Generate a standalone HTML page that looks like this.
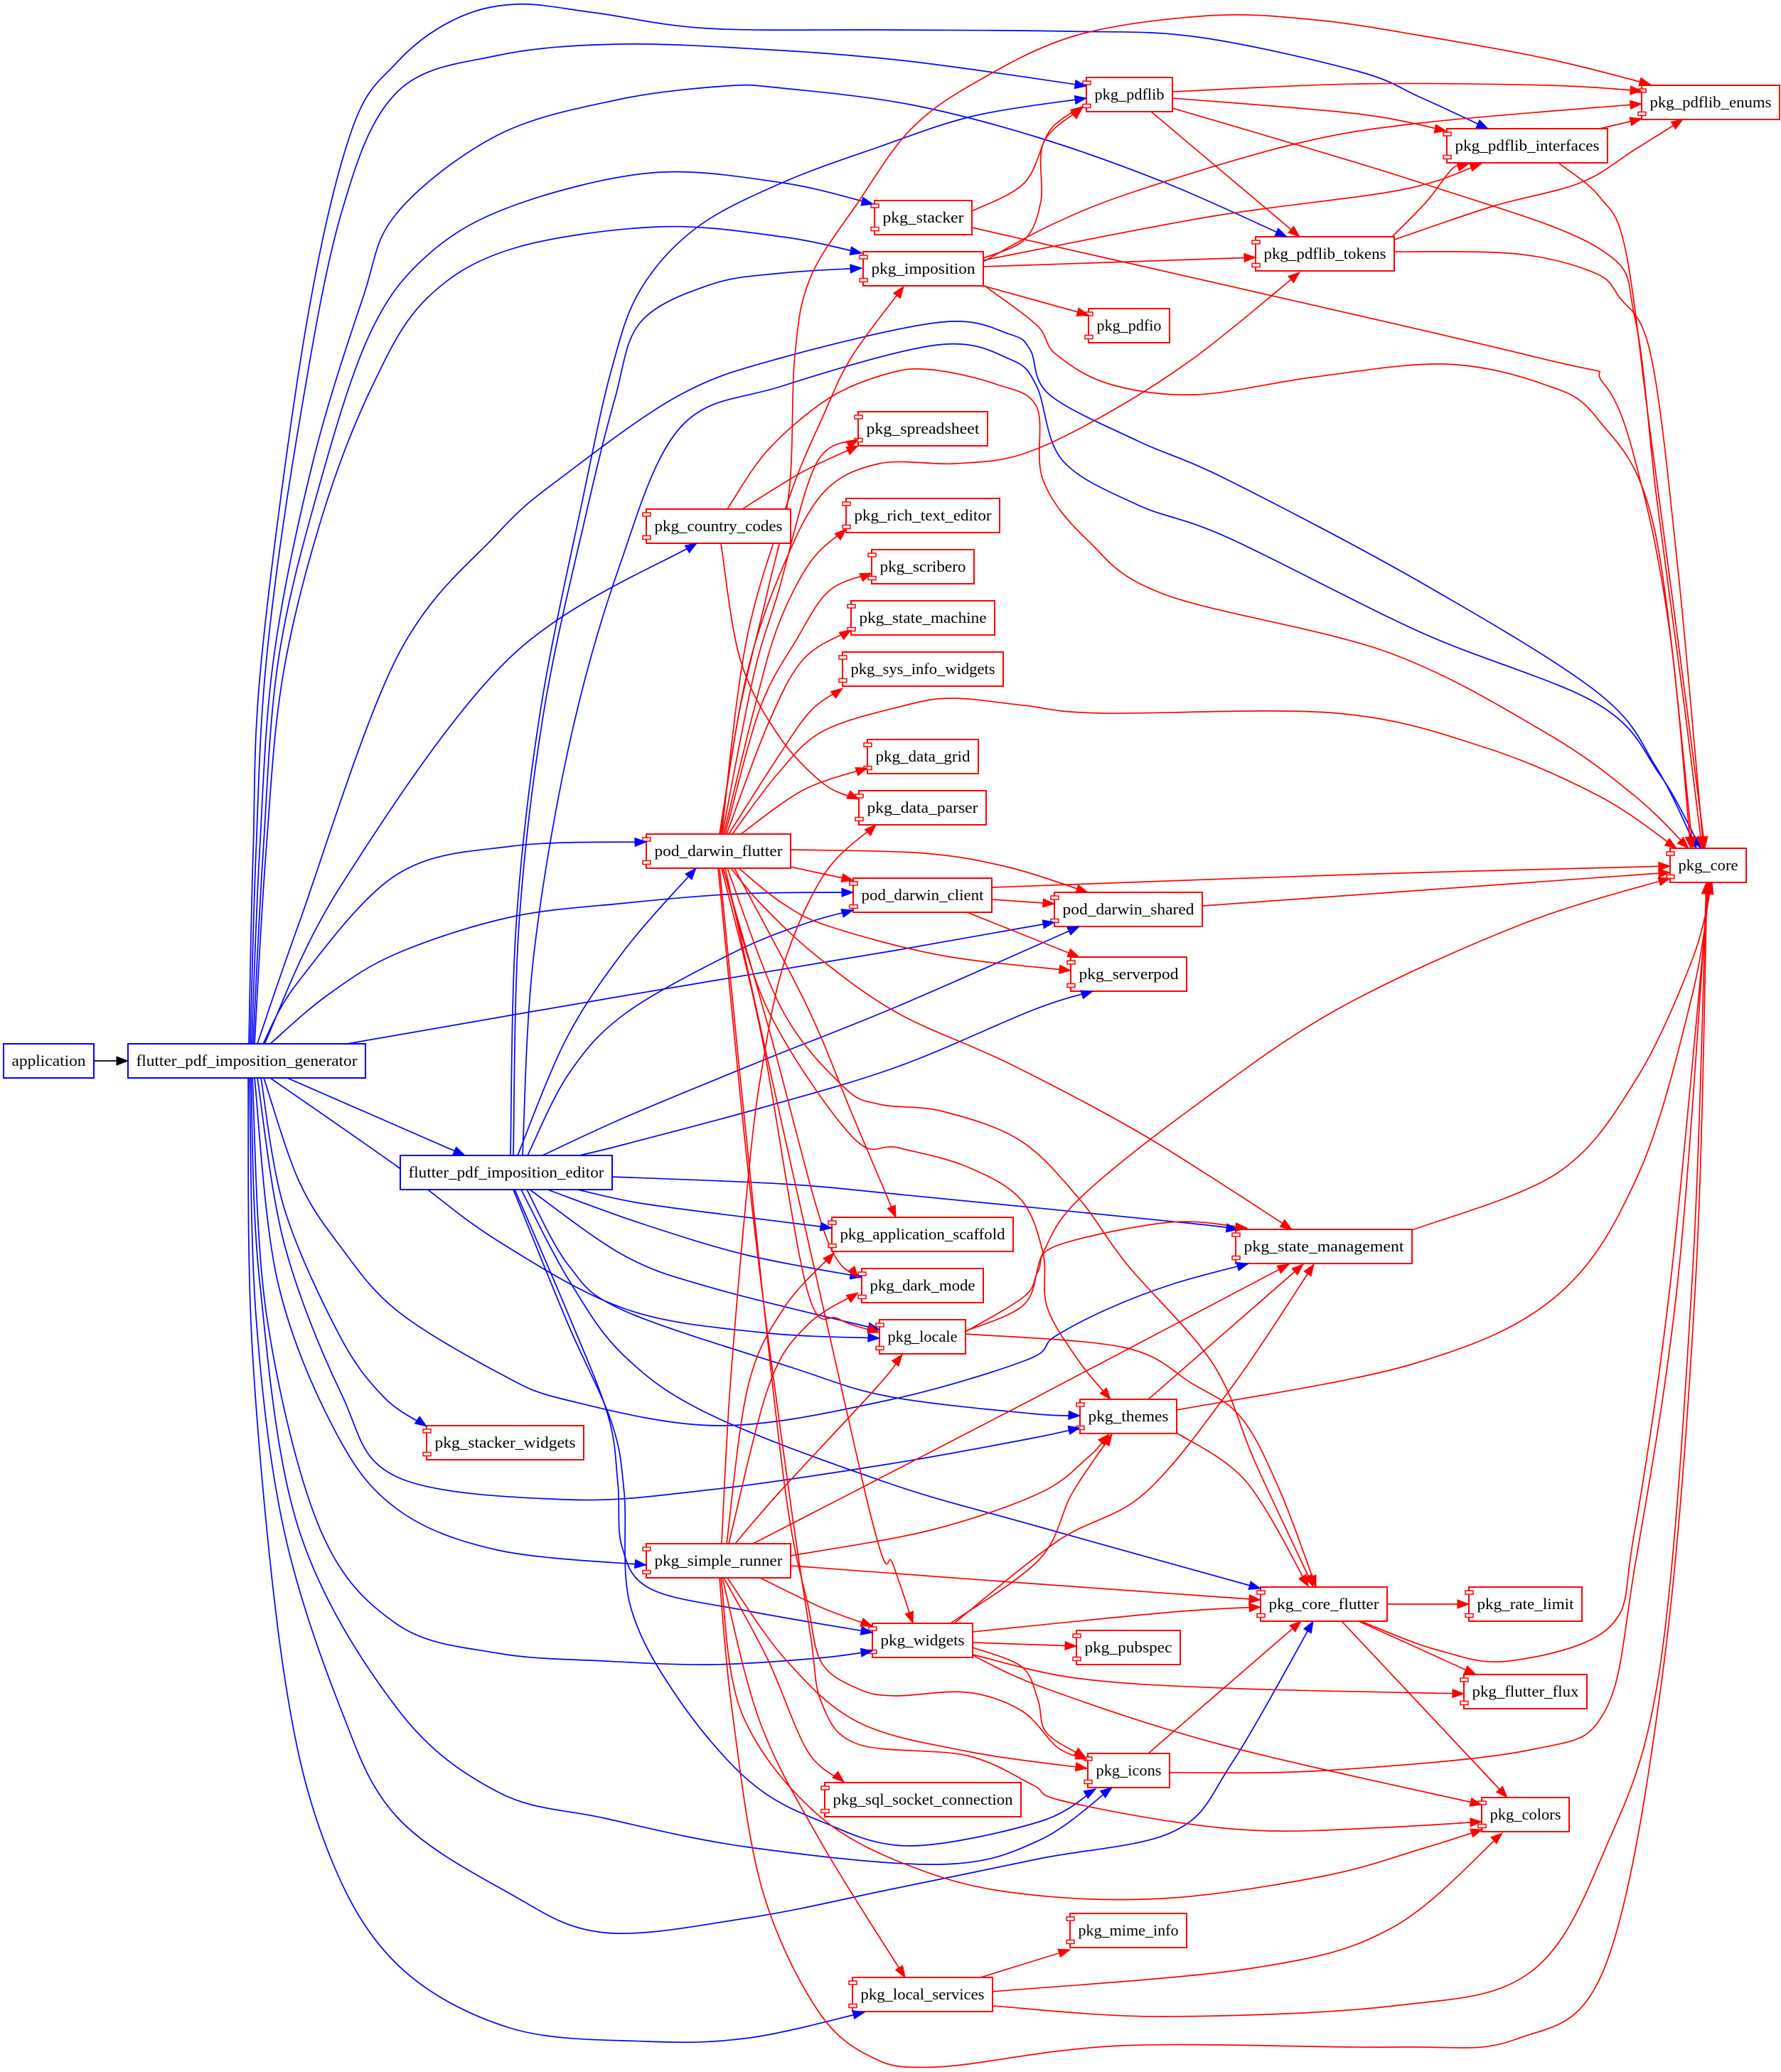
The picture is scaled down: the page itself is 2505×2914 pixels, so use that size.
<!DOCTYPE html>
<html>
<head>
<meta charset="utf-8">
<style>
html,body{margin:0;padding:0;background:#fff;}
svg{display:block;}
text{font-family:"Liberation Serif","DejaVu Serif",serif;font-size:22px;fill:#000;}
.c rect{fill:#fff;stroke:#ff0000;stroke-width:2;}
.c rect.s{stroke-width:1.5;}
.b rect{fill:#fff;stroke:#0000ff;stroke-width:2;}
</style>
</head>
<body>
<svg id="svg" xmlns="http://www.w3.org/2000/svg" width="2505" height="2914" viewBox="0 0 2505 2914">
<rect x="0" y="0" width="2505" height="2914" fill="#fff"/>
<g id="edges" fill="none" stroke-width="1.7"></g>
<g id="nodes">
<g class="b" transform="translate(5,1468)"><rect width="127" height="48"/><text x="63.5" y="31" text-anchor="middle" textLength="104" lengthAdjust="spacingAndGlyphs">application</text></g>
<g class="b" transform="translate(180,1468)"><rect width="334" height="48"/><text x="167" y="31" text-anchor="middle" textLength="311" lengthAdjust="spacingAndGlyphs">flutter_pdf_imposition_generator</text></g>
<g class="b" transform="translate(563,1625)"><rect width="298" height="48"/><text x="149" y="31" text-anchor="middle" textLength="275" lengthAdjust="spacingAndGlyphs">flutter_pdf_imposition_editor</text></g>

<g class="c" transform="translate(600,2005)"><rect width="221" height="48"/><rect class="s" x="-5" y="5" width="11" height="5"/><rect class="s" x="-5" y="37.5" width="11" height="5"/><text x="110.5" y="31" text-anchor="middle" textLength="198" lengthAdjust="spacingAndGlyphs">pkg_stacker_widgets</text></g>
<g class="c" transform="translate(909,2171)"><rect width="203" height="48"/><rect class="s" x="-5" y="5" width="11" height="5"/><rect class="s" x="-5" y="37.5" width="11" height="5"/><text x="101.5" y="31" text-anchor="middle" textLength="180" lengthAdjust="spacingAndGlyphs">pkg_simple_runner</text></g>
<g class="c" transform="translate(909,1173)"><rect width="203" height="48"/><rect class="s" x="-5" y="5" width="11" height="5"/><rect class="s" x="-5" y="37.5" width="11" height="5"/><text x="101.5" y="31" text-anchor="middle" textLength="180" lengthAdjust="spacingAndGlyphs">pod_darwin_flutter</text></g>
<g class="c" transform="translate(909,716)"><rect width="203" height="48"/><rect class="s" x="-5" y="5" width="11" height="5"/><rect class="s" x="-5" y="37.5" width="11" height="5"/><text x="101.5" y="31" text-anchor="middle" textLength="180" lengthAdjust="spacingAndGlyphs">pkg_country_codes</text></g>
<g class="c" transform="translate(1528,109)"><rect width="121" height="48"/><rect class="s" x="-5" y="5" width="11" height="5"/><rect class="s" x="-5" y="37.5" width="11" height="5"/><text x="60.5" y="31" text-anchor="middle" textLength="98" lengthAdjust="spacingAndGlyphs">pkg_pdflib</text></g>
<g class="c" transform="translate(1230,282)"><rect width="137" height="48"/><rect class="s" x="-5" y="5" width="11" height="5"/><rect class="s" x="-5" y="37.5" width="11" height="5"/><text x="68.5" y="31" text-anchor="middle" textLength="114" lengthAdjust="spacingAndGlyphs">pkg_stacker</text></g>
<g class="c" transform="translate(1214,354)"><rect width="169" height="48"/><rect class="s" x="-5" y="5" width="11" height="5"/><rect class="s" x="-5" y="37.5" width="11" height="5"/><text x="84.5" y="31" text-anchor="middle" textLength="146" lengthAdjust="spacingAndGlyphs">pkg_imposition</text></g>
<g class="c" transform="translate(1531,434)"><rect width="114" height="48"/><rect class="s" x="-5" y="5" width="11" height="5"/><rect class="s" x="-5" y="37.5" width="11" height="5"/><text x="57" y="31" text-anchor="middle" textLength="91" lengthAdjust="spacingAndGlyphs">pkg_pdfio</text></g>
<g class="c" transform="translate(1207,579)"><rect width="182" height="48"/><rect class="s" x="-5" y="5" width="11" height="5"/><rect class="s" x="-5" y="37.5" width="11" height="5"/><text x="91" y="31" text-anchor="middle" textLength="159" lengthAdjust="spacingAndGlyphs">pkg_spreadsheet</text></g>
<g class="c" transform="translate(1190,701)"><rect width="216" height="48"/><rect class="s" x="-5" y="5" width="11" height="5"/><rect class="s" x="-5" y="37.5" width="11" height="5"/><text x="108" y="31" text-anchor="middle" textLength="193" lengthAdjust="spacingAndGlyphs">pkg_rich_text_editor</text></g>
<g class="c" transform="translate(1226,773)"><rect width="144" height="48"/><rect class="s" x="-5" y="5" width="11" height="5"/><rect class="s" x="-5" y="37.5" width="11" height="5"/><text x="72" y="31" text-anchor="middle" textLength="121" lengthAdjust="spacingAndGlyphs">pkg_scribero</text></g>
<g class="c" transform="translate(1197,845)"><rect width="202" height="48"/><rect class="s" x="-5" y="5" width="11" height="5"/><rect class="s" x="-5" y="37.5" width="11" height="5"/><text x="101" y="31" text-anchor="middle" textLength="179" lengthAdjust="spacingAndGlyphs">pkg_state_machine</text></g>
<g class="c" transform="translate(1185,917)"><rect width="226" height="48"/><rect class="s" x="-5" y="5" width="11" height="5"/><rect class="s" x="-5" y="37.5" width="11" height="5"/><text x="113" y="31" text-anchor="middle" textLength="203" lengthAdjust="spacingAndGlyphs">pkg_sys_info_widgets</text></g>
<g class="c" transform="translate(1220,1040)"><rect width="156" height="48"/><rect class="s" x="-5" y="5" width="11" height="5"/><rect class="s" x="-5" y="37.5" width="11" height="5"/><text x="78" y="31" text-anchor="middle" textLength="133" lengthAdjust="spacingAndGlyphs">pkg_data_grid</text></g>
<g class="c" transform="translate(1208,1112)"><rect width="179" height="48"/><rect class="s" x="-5" y="5" width="11" height="5"/><rect class="s" x="-5" y="37.5" width="11" height="5"/><text x="89.5" y="31" text-anchor="middle" textLength="156" lengthAdjust="spacingAndGlyphs">pkg_data_parser</text></g>
<g class="c" transform="translate(1200,1235)"><rect width="195" height="48"/><rect class="s" x="-5" y="5" width="11" height="5"/><rect class="s" x="-5" y="37.5" width="11" height="5"/><text x="97.5" y="31" text-anchor="middle" textLength="172" lengthAdjust="spacingAndGlyphs">pod_darwin_client</text></g>
<g class="c" transform="translate(1483,1255)"><rect width="208" height="48"/><rect class="s" x="-5" y="5" width="11" height="5"/><rect class="s" x="-5" y="37.5" width="11" height="5"/><text x="104" y="31" text-anchor="middle" textLength="185" lengthAdjust="spacingAndGlyphs">pod_darwin_shared</text></g>
<g class="c" transform="translate(1506,1346)"><rect width="163" height="48"/><rect class="s" x="-5" y="5" width="11" height="5"/><rect class="s" x="-5" y="37.5" width="11" height="5"/><text x="81.5" y="31" text-anchor="middle" textLength="140" lengthAdjust="spacingAndGlyphs">pkg_serverpod</text></g>
<g class="c" transform="translate(1170,1712)"><rect width="255" height="48"/><rect class="s" x="-5" y="5" width="11" height="5"/><rect class="s" x="-5" y="37.5" width="11" height="5"/><text x="127.5" y="31" text-anchor="middle" textLength="232" lengthAdjust="spacingAndGlyphs">pkg_application_scaffold</text></g>
<g class="c" transform="translate(1212,1784)"><rect width="171" height="48"/><rect class="s" x="-5" y="5" width="11" height="5"/><rect class="s" x="-5" y="37.5" width="11" height="5"/><text x="85.5" y="31" text-anchor="middle" textLength="148" lengthAdjust="spacingAndGlyphs">pkg_dark_mode</text></g>
<g class="c" transform="translate(1237,1856)"><rect width="121" height="48"/><rect class="s" x="-5" y="5" width="11" height="5"/><rect class="s" x="-5" y="37.5" width="11" height="5"/><text x="60.5" y="31" text-anchor="middle" textLength="98" lengthAdjust="spacingAndGlyphs">pkg_locale</text></g>
<g class="c" transform="translate(1738,1729)"><rect width="248" height="48"/><rect class="s" x="-5" y="5" width="11" height="5"/><rect class="s" x="-5" y="37.5" width="11" height="5"/><text x="124" y="31" text-anchor="middle" textLength="225" lengthAdjust="spacingAndGlyphs">pkg_state_management</text></g>
<g class="c" transform="translate(1519,1968)"><rect width="136" height="48"/><rect class="s" x="-5" y="5" width="11" height="5"/><rect class="s" x="-5" y="37.5" width="11" height="5"/><text x="68" y="31" text-anchor="middle" textLength="113" lengthAdjust="spacingAndGlyphs">pkg_themes</text></g>
<g class="c" transform="translate(1227,2283)"><rect width="141" height="48"/><rect class="s" x="-5" y="5" width="11" height="5"/><rect class="s" x="-5" y="37.5" width="11" height="5"/><text x="70.5" y="31" text-anchor="middle" textLength="118" lengthAdjust="spacingAndGlyphs">pkg_widgets</text></g>
<g class="c" transform="translate(1514,2293)"><rect width="146" height="48"/><rect class="s" x="-5" y="5" width="11" height="5"/><rect class="s" x="-5" y="37.5" width="11" height="5"/><text x="73" y="31" text-anchor="middle" textLength="123" lengthAdjust="spacingAndGlyphs">pkg_pubspec</text></g>
<g class="c" transform="translate(1773,2232)"><rect width="178" height="48"/><rect class="s" x="-5" y="5" width="11" height="5"/><rect class="s" x="-5" y="37.5" width="11" height="5"/><text x="89" y="31" text-anchor="middle" textLength="155" lengthAdjust="spacingAndGlyphs">pkg_core_flutter</text></g>
<g class="c" transform="translate(2066,2232)"><rect width="159" height="48"/><rect class="s" x="-5" y="5" width="11" height="5"/><rect class="s" x="-5" y="37.5" width="11" height="5"/><text x="79.5" y="31" text-anchor="middle" textLength="136" lengthAdjust="spacingAndGlyphs">pkg_rate_limit</text></g>
<g class="c" transform="translate(2059,2355)"><rect width="173" height="48"/><rect class="s" x="-5" y="5" width="11" height="5"/><rect class="s" x="-5" y="37.5" width="11" height="5"/><text x="86.5" y="31" text-anchor="middle" textLength="150" lengthAdjust="spacingAndGlyphs">pkg_flutter_flux</text></g>
<g class="c" transform="translate(1530,2466)"><rect width="115" height="48"/><rect class="s" x="-5" y="5" width="11" height="5"/><rect class="s" x="-5" y="37.5" width="11" height="5"/><text x="57.5" y="31" text-anchor="middle" textLength="92" lengthAdjust="spacingAndGlyphs">pkg_icons</text></g>
<g class="c" transform="translate(1160,2507)"><rect width="276" height="48"/><rect class="s" x="-5" y="5" width="11" height="5"/><rect class="s" x="-5" y="37.5" width="11" height="5"/><text x="138" y="31" text-anchor="middle" textLength="253" lengthAdjust="spacingAndGlyphs">pkg_sql_socket_connection</text></g>
<g class="c" transform="translate(2084,2528)"><rect width="123" height="48"/><rect class="s" x="-5" y="5" width="11" height="5"/><rect class="s" x="-5" y="37.5" width="11" height="5"/><text x="61.5" y="31" text-anchor="middle" textLength="100" lengthAdjust="spacingAndGlyphs">pkg_colors</text></g>
<g class="c" transform="translate(1505,2691)"><rect width="164" height="48"/><rect class="s" x="-5" y="5" width="11" height="5"/><rect class="s" x="-5" y="37.5" width="11" height="5"/><text x="82" y="31" text-anchor="middle" textLength="141" lengthAdjust="spacingAndGlyphs">pkg_mime_info</text></g>
<g class="c" transform="translate(1199,2781)"><rect width="197" height="48"/><rect class="s" x="-5" y="5" width="11" height="5"/><rect class="s" x="-5" y="37.5" width="11" height="5"/><text x="98.5" y="31" text-anchor="middle" textLength="174" lengthAdjust="spacingAndGlyphs">pkg_local_services</text></g>
<g class="c" transform="translate(2349,1193)"><rect width="107" height="48"/><rect class="s" x="-5" y="5" width="11" height="5"/><rect class="s" x="-5" y="37.5" width="11" height="5"/><text x="53.5" y="31" text-anchor="middle" textLength="84" lengthAdjust="spacingAndGlyphs">pkg_core</text></g>
<g class="c" transform="translate(2309,120)"><rect width="194" height="48"/><rect class="s" x="-5" y="5" width="11" height="5"/><rect class="s" x="-5" y="37.5" width="11" height="5"/><text x="97" y="31" text-anchor="middle" textLength="171" lengthAdjust="spacingAndGlyphs">pkg_pdflib_enums</text></g>
<g class="c" transform="translate(2035,181)"><rect width="226" height="48"/><rect class="s" x="-5" y="5" width="11" height="5"/><rect class="s" x="-5" y="37.5" width="11" height="5"/><text x="113" y="31" text-anchor="middle" textLength="203" lengthAdjust="spacingAndGlyphs">pkg_pdflib_interfaces</text></g>
<g class="c" transform="translate(1766,333)"><rect width="195" height="48"/><rect class="s" x="-5" y="5" width="11" height="5"/><rect class="s" x="-5" y="37.5" width="11" height="5"/><text x="97.5" y="31" text-anchor="middle" textLength="172" lengthAdjust="spacingAndGlyphs">pkg_pdflib_tokens</text></g>
</g>
</svg>
<script>
(function(){
var B='#0000ff',R='#ff0000',K='#000000';
var E=[
[K,[[132,1492],[180,1492]]],
// generator
[B,[[350,1468],[356,1200],[368,925],[430,462],[494,185],[558,88],[638,28],[725,6],[837,18],[996,40],[1250,42],[1500,44],[1684,52],[1909,100],[1998,137],[2093,181]]],
[B,[[352,1468],[360,1200],[375,925],[420,600],[480,300],[558,130],[700,78],[877,62],[1100,71],[1250,83],[1370,98],[1528,121]]],
[B,[[354,1468],[365,1200],[385,925],[440,650],[510,420],[558,300],[700,190],[870,140],[1020,121],[1100,124],[1280,147],[1459,193],[1639,257],[1810,333]]],
[B,[[356,1468],[370,1200],[392,925],[450,680],[520,470],[600,360],[720,290],[917,243],[1100,257],[1228,287]]],
[B,[[358,1468],[374,1200],[398,950],[455,720],[525,540],[600,420],[720,350],[925,319],[1100,333],[1212,356]]],
[B,[[362,1468],[420,1300],[558,925],[700,750],[797,666],[957,555],[1100,503],[1324,453],[1420,470],[1449,492],[1476,555],[1600,620],[1727,675],[2000,820],[2247,974],[2330,1080],[2386,1193]]],
[B,[[372,1468],[478,1248],[717,925],[980,764]]],
[B,[[370,1468],[420,1380],[558,1230],[720,1190],[909,1184]]],
[B,[[380,1468],[460,1400],[558,1341],[717,1290],[880,1270],[1039,1257],[1200,1255]]],
[B,[[488,1468],[880,1400],[1263,1336],[1483,1297]]],
[B,[[404,1516],[654,1625]]],
[B,[[380,1516],[558,1640],[700,1745],[880,1841],[1071,1874],[1237,1882]]],
[B,[[371,1516],[420,1660],[478,1752],[558,1843],[700,1930],[797,1969],[1012,2005],[1250,1969],[1443,1913],[1483,1880],[1560,1840],[1652,1805],[1756,1777]]],
[B,[[367,1516],[400,1700],[478,1879],[540,1965],[600,2006]]],
[B,[[362,1516],[400,1750],[480,1960],[558,2077],[797,2109],[1000,2095],[1250,2059],[1450,2023],[1519,2008]]],
[B,[[358,1516],[390,1800],[470,2010],[558,2122],[700,2180],[909,2201]]],
[B,[[355,1516],[375,1850],[450,2150],[558,2284],[700,2325],[850,2336],[1003,2341],[1150,2332],[1227,2322]]],
[B,[[353,1516],[365,1800],[420,2150],[558,2402],[700,2520],[850,2557],[1054,2598],[1324,2622],[1462,2588],[1564,2514]]],
[B,[[351,1516],[360,1850],[399,2150],[478,2400],[558,2555],[717,2663],[850,2718],[1054,2697],[1258,2656],[1462,2614],[1652,2575],[1733,2479],[1847,2280]]],
[B,[[349,1516],[355,1900],[399,2350],[460,2600],[558,2762],[717,2852],[909,2871],[1054,2866],[1216,2830]]],
// editor
[B,[[718,1625],[726,1300],[760,1000],[820,700],[860,520],[901,407],[980,320],[1100,257],[1235,207],[1370,163],[1528,138]]],
[B,[[722,1625],[730,1300],[765,1000],[825,720],[865,560],[901,453],[1000,400],[1100,384],[1212,377]]],
[B,[[735,1625],[750,1350],[800,1050],[870,800],[957,601],[1100,543],[1319,485],[1420,505],[1458,543],[1494,647],[1600,710],[1727,756],[2000,890],[2247,990],[2335,1090],[2392,1193]]],
[B,[[728,1625],[797,1460],[880,1334],[979,1221]]],
[B,[[742,1625],[800,1510],[880,1425],[1033,1339],[1135,1298],[1200,1280]]],
[B,[[763,1625],[880,1571],[1071,1492],[1263,1415],[1518,1303]]],
[B,[[815,1625],[880,1609],[1071,1558],[1263,1500],[1454,1420],[1537,1394]]],
[B,[[861,1655],[1100,1665],[1267,1680],[1670,1720],[1741,1729]]],
[B,[[812,1673],[900,1692],[1050,1712],[1170,1727]]],
[B,[[770,1673],[900,1720],[1050,1765],[1212,1796]]],
[B,[[745,1673],[880,1767],[1008,1813],[1237,1870]]],
[B,[[741,1673],[800,1780],[877,1843],[1116,1924],[1250,1964],[1450,1988],[1519,1991]]],
[B,[[733,1673],[800,1800],[877,1906],[1000,1990],[1250,2086],[1450,2144],[1773,2234]]],
[B,[[724,1673],[800,1850],[855,1990],[869,2086],[875,2176],[916,2235],[1054,2266],[1227,2296]]],
[B,[[722,1673],[798,1860],[860,2000],[878,2100],[886,2256],[952,2386],[1054,2505],[1156,2562],[1279,2596],[1462,2562],[1541,2516]]],
// pod_darwin_flutter
[R,[[1015,1173],[1050,900],[1110,700],[1160,580],[1199,500],[1271,403]]],
[R,[[1013,1173],[1040,1000],[1080,830],[1110,690],[1118,500],[1140,390],[1208,283],[1280,183],[1370,117],[1513,50],[1700,22],[1850,28],[1998,50],[2178,83],[2322,119]]],
[R,[[1012,1173],[1050,950],[1100,800],[1158,693],[1237,652],[1344,652],[1440,638],[1560,580],[1684,500],[1828,383]]],
[R,[[1016,1173],[1060,950],[1094,835],[1148,652],[1207,618]]],
[R,[[1018,1173],[1060,1000],[1094,881],[1140,790],[1190,744]]],
[R,[[1020,1173],[1069,996],[1120,900],[1166,831],[1226,806]]],
[R,[[1022,1173],[1080,1019],[1130,927],[1197,886]]],
[R,[[1025,1173],[1094,1065],[1140,1000],[1185,968]]],
[R,[[1042,1173],[1130,1111],[1220,1080]]],
[R,[[1030,1173],[1094,1088],[1158,1028],[1273,992],[1341,982],[1440,992],[1548,1003],[1880,1003],[2085,1050],[2250,1120],[2358,1193]]],
[R,[[1111,1219],[1200,1238]]],
[R,[[1112,1195],[1300,1200],[1420,1220],[1530,1255]]],
[R,[[1039,1221],[1100,1270],[1167,1303],[1326,1344],[1506,1365]]],
[R,[[1028,1221],[1071,1272],[1148,1344],[1263,1425],[1422,1497],[1613,1599],[1817,1729]]],
[R,[[1017,1221],[1080,1420],[1199,1599],[1263,1614],[1358,1640],[1435,1686],[1467,1762],[1473,1839],[1518,1915],[1562,1968]]],
[R,[[1023,1221],[1100,1420],[1186,1528],[1237,1553],[1326,1563],[1435,1604],[1518,1686],[1585,1778],[1706,1918],[1766,2058],[1847,2231]]],
[R,[[1033,1221],[1135,1415],[1199,1568],[1260,1712]]],
[R,[[1017,1221],[1084,1456],[1161,1737],[1207,1797]]],
[R,[[1015,1221],[1071,1456],[1135,1813],[1180,1855],[1237,1874]]],
[R,[[1020,1221],[1217,2100],[1256,2200],[1284,2283]]],
[R,[[1012,1221],[1060,1700],[1105,2100],[1136,2256],[1156,2339],[1207,2375],[1258,2385],[1360,2380],[1437,2406],[1488,2458],[1529,2474]]],
[R,[[1010,1221],[1058,1700],[1110,2100],[1140,2300],[1156,2396],[1207,2453],[1360,2469],[1452,2510],[1488,2531],[1650,2562],[1786,2575],[1950,2570],[2084,2562]]],
// country codes
[R,[[1044,716],[1130,663],[1207,627]]],
[R,[[1023,716],[1080,633],[1166,560],[1250,525],[1311,520],[1400,540],[1458,572],[1467,675],[1530,760],[1638,836],[1951,917],[2175,1031],[2300,1120],[2375,1193]]],
[R,[[1014,764],[1041,927],[1094,1033],[1158,1102],[1208,1124]]],
// simple runner
[R,[[1015,2171],[1027,1950],[1052,1660],[1071,1507],[1103,1354],[1161,1227],[1232,1160]]],
[R,[[1022,2171],[1052,1950],[1103,1839],[1173,1762]]],
[R,[[1025,2171],[1081,1950],[1135,1864],[1207,1818]]],
[R,[[1034,2171],[1095,2100],[1234,1950],[1269,1905]]],
[R,[[1059,2171],[1197,2100],[1450,1969],[1813,1778]]],
[R,[[1112,2188],[1309,2152],[1462,2100],[1530,2050],[1560,2017]]],
[R,[[1112,2202],[1450,2227],[1773,2250]]],
[R,[[1069,2219],[1156,2261],[1227,2287]]],
[R,[[1023,2219],[1105,2334],[1207,2422],[1360,2463],[1529,2487]]],
[R,[[1018,2219],[1080,2334],[1136,2463],[1187,2506]]],
[R,[[1016,2219],[1069,2422],[1156,2593],[1273,2781]]],
[R,[[1014,2219],[1044,2411],[1156,2557],[1309,2635],[1462,2666],[1650,2669],[1864,2638],[2000,2600],[2085,2573]]],
[R,[[1012,2219],[1029,2400],[1070,2650],[1144,2818],[1220,2890],[1317,2907],[1576,2877],[1960,2879],[2132,2868],[2257,2767],[2339,2350],[2385,1800],[2401,1241]]],
// pdflib group
[R,[[1367,297],[1441,257],[1477,183],[1522,150]]],
[R,[[1383,363],[1441,337],[1464,283],[1468,200],[1522,152]]],
[R,[[1383,368],[1477,317],[1594,270],[1819,203],[1998,173],[2309,146]]],
[R,[[1383,366],[1700,305],[1971,267],[2084,230]]],
[R,[[1383,375],[1766,362]]],
[R,[[1383,402],[1531,443]]],
[R,[[1382,400],[1458,457],[1485,498],[1560,540],[1682,555],[1850,530],[2032,512],[2170,540],[2247,589],[2327,744],[2381,1193]]],
[R,[[1367,320],[2151,500],[2256,540],[2310,687],[2350,900],[2378,1193]]],
[R,[[1649,129],[1909,118],[2178,120],[2309,128]]],
[R,[[1649,138],[1909,160],[2034,184]]],
[R,[[1619,157],[1828,333]]],
[R,[[1649,152],[1998,257],[2250,350],[2300,450],[2330,700],[2370,1000],[2394,1193]]],
[R,[[2250,181],[2309,167]]],
[R,[[2192,229],[2250,277],[2286,350],[2320,600],[2360,900],[2398,1193]]],
[R,[[1958,333],[2007,283],[2043,237],[2066,230]]],
[R,[[1961,337],[2100,290],[2223,257],[2300,210],[2367,168]]],
[R,[[1961,354],[2133,357],[2241,383],[2277,417],[2322,500],[2360,800],[2396,1193]]],
// darwin
[R,[[1395,1248],[1900,1230],[2349,1218]]],
[R,[[1395,1265],[1483,1271]]],
[R,[[1360,1283],[1518,1346]]],
[R,[[1691,1274],[2349,1227]]],
// locale etc
[R,[[1358,1872],[1441,1834],[1467,1762],[1518,1686],[1677,1558],[1880,1420],[2140,1300],[2349,1235]]],
[R,[[1358,1873],[1441,1823],[1460,1788],[1486,1752],[1645,1719],[1754,1727]]],
[R,[[1358,1876],[1581,1895],[1677,1946],[1746,1994],[1800,2096],[1851,2232]]],
[R,[[1986,1730],[2190,1650],[2300,1520],[2380,1350],[2408,1241]]],
[R,[[1615,1968],[1833,1778]]],
[R,[[1655,1983],[1988,1918],[2190,1822],[2305,1650],[2380,1400],[2406,1241]]],
[R,[[1655,2015],[1753,2084],[1840,2231]]],
[R,[[1337,2283],[1462,2193],[1508,2100],[1564,2017]]],
[R,[[1342,2283],[1488,2167],[1610,2100],[1733,1950],[1848,1778]]],
[R,[[1368,2295],[1650,2267],[1773,2260]]],
[R,[[1368,2310],[1514,2315]]],
[R,[[1368,2327],[1513,2360],[1719,2374],[2059,2382]]],
[R,[[1368,2317],[1437,2344],[1460,2391],[1472,2437],[1527,2472]]],
[R,[[1368,2328],[1472,2375],[1719,2454],[2084,2538]]],
[R,[[1951,2256],[2066,2256]]],
[R,[[1911,2280],[2076,2355]]],
[R,[[1887,2280],[2120,2528]]],
[R,[[1914,2280],[2020,2320],[2123,2336],[2264,2288],[2298,2160],[2350,1800],[2404,1241]]],
[R,[[1615,2466],[1830,2280]]],
[R,[[1645,2493],[1864,2490],[2152,2461],[2257,2407],[2300,2200],[2360,1800],[2402,1241]]],
[R,[[1379,2781],[1505,2742]]],
[R,[[1396,2801],[1768,2767],[1960,2710],[2113,2578]]],
[R,[[1396,2821],[1633,2836],[1960,2821],[2152,2774],[2257,2602],[2334,2350],[2380,1800],[2400,1241]]]
];
var NS='http://www.w3.org/2000/svg';
var g=document.getElementById('edges');
var arrows=document.createElementNS(NS,'g');
function pathD(p){
  var d='M'+p[0][0]+','+p[0][1];
  for(var i=0;i<p.length-1;i++){
    var p0=p[i-1]||p[i],p1=p[i],p2=p[i+1],p3=p[i+2]||p[i+1];
    var c1=[p1[0]+(p2[0]-p0[0])/6,p1[1]+(p2[1]-p0[1])/6];
    var c2=[p2[0]-(p3[0]-p1[0])/6,p2[1]-(p3[1]-p1[1])/6];
    d+=' C'+c1[0].toFixed(1)+','+c1[1].toFixed(1)+' '+c2[0].toFixed(1)+','+c2[1].toFixed(1)+' '+p2[0]+','+p2[1];
  }
  return d;
}
E.forEach(function(e){
  var col=e[0],p=e[1];
  var n=p.length;
  var tip=p[n-1],prev=p[n-2];
  var dx=tip[0]-prev[0],dy=tip[1]-prev[1];
  var L=Math.sqrt(dx*dx+dy*dy)||1;dx/=L;dy/=L;
  var al=16,aw=6;
  var base=[tip[0]-dx*al,tip[1]-dy*al];
  var pts=p.slice();
  var path=document.createElementNS(NS,'path');
  path.setAttribute('d',pathD(pts));
  path.setAttribute('stroke',col);
  g.appendChild(path);
  var poly=document.createElementNS(NS,'polygon');
  var px=-dy,py=dx;
  poly.setAttribute('points',tip[0]+','+tip[1]+' '+(base[0]+px*aw).toFixed(1)+','+(base[1]+py*aw).toFixed(1)+' '+(base[0]-px*aw).toFixed(1)+','+(base[1]-py*aw).toFixed(1));
  poly.setAttribute('fill',col);
  poly.setAttribute('stroke',col);
  poly.setAttribute('stroke-width','1');
  arrows.appendChild(poly);
});
document.getElementById('svg').appendChild(arrows);
})();
</script>
</body>
</html>
